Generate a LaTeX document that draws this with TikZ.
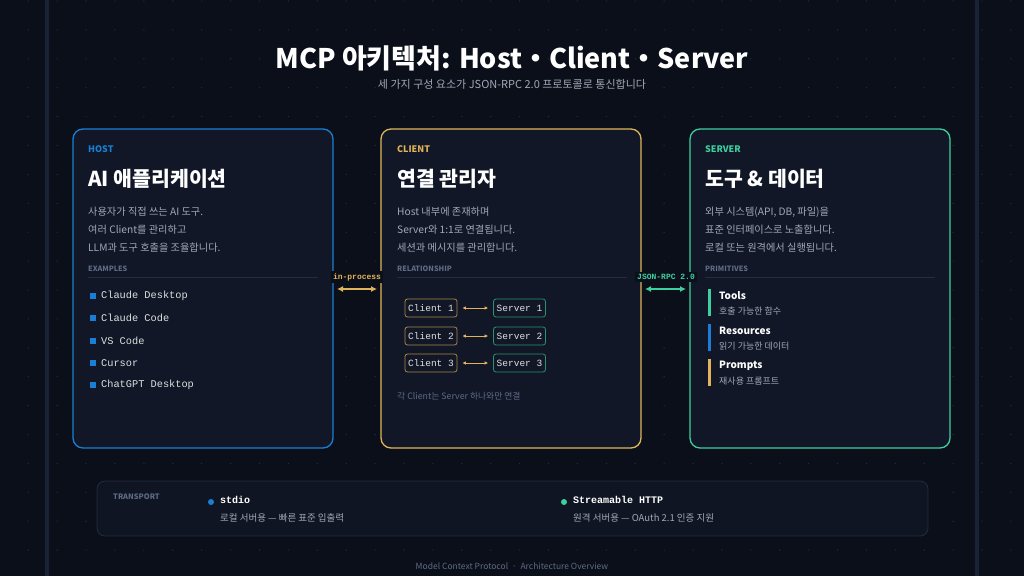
\documentclass[tikz,border=0pt]{standalone}
\usepackage{fontspec}
\setmainfont{Noto Sans CJK KR}
\newfontfamily\monofont{Liberation Mono}
\usetikzlibrary{arrows.meta}
\definecolor{bgc}{HTML}{0B0F19}
\definecolor{cardc}{HTML}{111726}
\definecolor{hostc}{HTML}{1A7FD4}
\definecolor{clientc}{HTML}{E0B45A}
\definecolor{serverc}{HTML}{3ECF9F}
\definecolor{descc}{HTML}{A0A8B8}
\definecolor{mutedc}{HTML}{5E6A86}
\definecolor{rulec}{HTML}{242C40}
\definecolor{framec}{HTML}{1A2238}
\tikzset{
  every node/.style={inner sep=0pt},
  card/.style={draw=#1, line width=1.3pt, fill=cardc, rounded corners=10pt},
  tag/.style={anchor=west, text=#1, font=\fontsize{9}{11}\selectfont\bfseries},
  head/.style={anchor=west, text=white, font=\fontsize{20.5}{24}\selectfont\bfseries},
  desc/.style={anchor=west, text=descc, font=\fontsize{10.2}{12}\selectfont},
  sect/.style={anchor=west, text=mutedc, font=\fontsize{7.3}{8}\selectfont\bfseries},
  item/.style={anchor=west, text=white!88!black, font=\monofont\fontsize{10.3}{12}\selectfont},
  pair/.style={draw=#1, line width=0.8pt, rounded corners=2.5pt, minimum width=52pt,
    minimum height=18pt, inner sep=1pt, text=white!88!black, font=\monofont\fontsize{9.5}{11}\selectfont},
  link/.style={fill=bgc, inner sep=2pt, text=#1, font=\monofont\bfseries\fontsize{8}{9}\selectfont},
  twoway/.style={{Latex[length=6pt,width=6pt]}-{Latex[length=6pt,width=6pt]}, line width=1.3pt, #1}
}
\begin{document}
\begin{tikzpicture}[x=1pt, y=-1pt]
    % Background and frame
    \fill[bgc] (0,0) rectangle (1024,576);
    \useasboundingbox (0,0) rectangle (1024,576);
    \foreach \x in {1,...,35}
        \foreach \y in {0,...,19}
            \fill[rulec] (\x*28.9-0.6,\y*28.9+1) circle (0.7pt);
    \fill[framec] (45,0) rectangle (49,576);
    \fill[framec] (975,0) rectangle (979,576);

    % Title
    \node[text=white, font=\fontsize{27}{32}\selectfont\bfseries] (title) at (512,58) {MCP 아키텍처: Host・Client・Server};
    \node[text=descc, font=\fontsize{11}{13}\selectfont] (subtitle) at (512,84) {세 가지 구성 요소가 JSON-RPC 2.0 프로토콜로 통신합니다};

    % Cards
    \draw[card=hostc] (73,129) rectangle (333,448);
    \draw[card=clientc] (381,129) rectangle (641,448);
    \draw[card=serverc] (690,129) rectangle (950,448);
    \foreach \x/\c/\t/\h/\s in {88/hostc/HOST/AI 애플리케이션/EXAMPLES,
                                397/clientc/CLIENT/연결 관리자/RELATIONSHIP,
                                705/serverc/SERVER/도구 \& 데이터/PRIMITIVES} {
        \node[tag=\c] at (\x,149) {\t};
        \node[head] at (\x,179) {\h};
        \node[sect] at (\x,269) {\s};
        \draw[rulec, line width=0.8pt] (\x,277) -- (\x+230,277);
    }

    % Descriptions
    \node[desc] (hd1) at (88,212) {사용자가 직접 쓰는 AI 도구.};
    \node[desc] (hd2) at (88,230) {여러 Client를 관리하고};
    \node[desc] (hd3) at (88,248) {LLM과 도구 호출을 조율합니다.};
    \node[desc] (cd1) at (397,212) {Host 내부에 존재하며};
    \node[desc] (cd2) at (397,230) {Server와 1:1로 연결됩니다.};
    \node[desc] (cd3) at (397,248) {세션과 메시지를 관리합니다.};
    \node[desc] (sd1) at (705,212) {외부 시스템(API, DB, 파일)을};
    \node[desc] (sd2) at (705,230) {표준 인터페이스로 노출합니다.};
    \node[desc] (sd3) at (705,248) {로컬 또는 원격에서 실행됩니다.};

    % Host examples
    \foreach \t [count=\i from 0] in {Claude Desktop, Claude Code, VS Code, Cursor, ChatGPT Desktop} {
        \fill[hostc] (89.5,296+22.3*\i-3) rectangle (95.5,296+22.3*\i+3);
        \node[item] at (101,296+22.3*\i) {\t};
    }

    % Client-server pairs
    \foreach \i/\y in {1/308,2/336,3/363} {
        \node[pair=clientc!75!black] (c\i) at (431,\y) {Client \i};
        \node[pair=serverc!70!black] (s\i) at (519.5,\y) {Server \i};
        \draw[{Latex[length=3.5pt,width=3.5pt]}-{Latex[length=3.5pt,width=3.5pt]}, clientc, line width=0.8pt]
            ([xshift=5pt]c\i.east) -- ([xshift=-5pt]s\i.west);
    }
    \node[anchor=west, text=mutedc, font=\fontsize{8.8}{10}\selectfont] (note) at (397,396) {각 Client는 Server 하나와만 연결};

    % Primitives
    \foreach \c/\t/\s [count=\i from 0] in {serverc/Tools/호출 가능한 함수, hostc/Resources/읽기 가능한 데이터, clientc/Prompts/재사용 프롬프트} {
        \fill[\c] (707.5,289+35*\i) rectangle (710.5,316+35*\i);
        \node[anchor=west, text=white, font=\fontsize{10}{12}\selectfont\bfseries] at (719,296+35*\i) {\t};
        \node[anchor=west, text=descc, font=\fontsize{9}{10}\selectfont] at (719,311+35*\i) {\s};
    }

    % Links between cards
    \coordinate (hr) at (337,289);
    \coordinate (cl) at (377,289);
    \coordinate (cr) at (645,289);
    \coordinate (sl) at (686,289);
    \draw[twoway=clientc] (hr) -- (cl);
    \draw[twoway=serverc] (cr) -- (sl);
    \node[link=clientc] (inproc) at (357,277) {in-process};
    \node[link=serverc] (rpc) at (666,277) {JSON-RPC 2.0};

    % Transport
    \draw[rulec, fill=cardc!70!bgc, line width=0.8pt, rounded corners=8pt] (97,481) rectangle (928,536);
    \node[anchor=west, text=mutedc, font=\fontsize{7.5}{8}\selectfont\bfseries] (tr) at (113,497) {TRANSPORT};
    \fill[hostc] (211,502) circle (3pt);
    \node[anchor=west, text=white, font=\monofont\bfseries\fontsize{10}{12}\selectfont] (stdio) at (220,500) {stdio};
    \node[anchor=west, text=descc, font=\fontsize{9.5}{11}\selectfont] at (220,518) {로컬 서버용 — 빠른 표준 입출력};
    \fill[serverc] (564,502) circle (3pt);
    \node[anchor=west, text=white, font=\monofont\bfseries\fontsize{10}{12}\selectfont] (http) at (573,500) {Streamable HTTP};
    \node[anchor=west, text=descc, font=\fontsize{9.5}{11}\selectfont] at (573,518) {원격 서버용 — OAuth 2.1 인증 지원};

    % Footer
    \node[text=mutedc, font=\fontsize{8.5}{10}\selectfont] (footer) at (512,566) {Model Context Protocol \ · \ Architecture Overview};
\end{tikzpicture}
\end{document}
